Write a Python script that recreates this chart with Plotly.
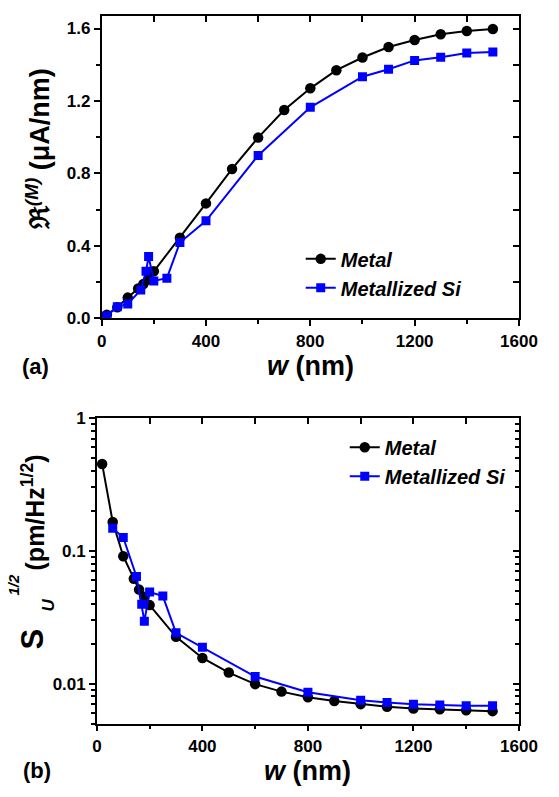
import plotly.graph_objects as go

# ---- panel (a): responsivity vs. width ----
w_metal_a = [20, 60, 100, 140, 160, 180, 200, 300, 400, 500, 600, 700, 800, 900,
             1000, 1100, 1200, 1300, 1400, 1500]
resp_metal = [0.02, 0.062, 0.115, 0.165, 0.19, 0.215, 0.26, 0.445, 0.635, 0.825,
              0.998, 1.15, 1.27, 1.37, 1.44, 1.498, 1.537, 1.568, 1.586, 1.597]

w_si_a = [20, 60, 100, 150, 170, 180, 200, 250, 300, 400, 600, 800, 1000, 1100,
          1200, 1300, 1400, 1500]
resp_si = [0.015, 0.065, 0.08, 0.157, 0.26, 0.342, 0.207, 0.222, 0.419, 0.539,
           0.899, 1.165, 1.334, 1.375, 1.424, 1.442, 1.465, 1.471]

# ---- panel (b): displacement noise vs. width ----
w_metal_b = [20, 60, 100, 140, 160, 180, 200, 300, 400, 500, 600, 700, 800, 900,
             1000, 1100, 1200, 1300, 1400, 1500]
noise_metal = [0.45, 0.165, 0.091, 0.0615, 0.051, 0.045, 0.039, 0.0225, 0.0156,
               0.0121, 0.0099, 0.0087, 0.0079, 0.0074, 0.0070, 0.0067, 0.0065,
               0.0064, 0.0063, 0.0062]

w_si_b = [60, 100, 150, 170, 180, 200, 250, 300, 400, 600, 800, 1000, 1100, 1200,
          1300, 1400, 1500]
noise_si = [0.148, 0.126, 0.064, 0.0396, 0.0295, 0.049, 0.0456, 0.0241, 0.0188,
            0.0113, 0.0086, 0.0075, 0.0072, 0.0070, 0.0069, 0.0068, 0.0068]

x_ticks = [0, 400, 800, 1200, 1600]
ya_ticks = [0.0, 0.4, 0.8, 1.2, 1.6]
ya_ticktext = ["0.0", "0.4", "0.8", "1.2", "1.6"]
yb_ticks = [1, 0.1, 0.01]
yb_ticktext = ["1", "0.1", "0.01"]
yb_minor = [k * 10.0 ** e for e in (-1, -2) for k in range(2, 10)] + [0.005, 0.006, 0.007, 0.008, 0.009]
yb_minor = sorted(set(round(v, 6) for v in yb_minor if 0.005 <= v < 1))

W, H = 559, 797
FONT = "Liberation Sans, Arial, sans-serif"
BLACK = "#000000"
BLUE = "#0000FF"


def px_x(p):
    return p / W


def px_y(p):
    return 1 - p / H


fig = go.Figure()

common_metal = dict(mode="lines+markers", line=dict(color=BLACK, width=2),
                    marker=dict(symbol="circle", size=10.5, color=BLACK), name="<i>Metal</i>")
common_si = dict(mode="lines+markers", line=dict(color=BLUE, width=2),
                 marker=dict(symbol="square", size=9, color=BLUE), name="<i>Metallized Si</i>")

fig.add_trace(go.Scatter(x=w_metal_a, y=resp_metal, xaxis="x", yaxis="y",
                         legend="legend", **common_metal))
fig.add_trace(go.Scatter(x=w_si_a, y=resp_si, xaxis="x", yaxis="y",
                         legend="legend", **common_si))
fig.add_trace(go.Scatter(x=w_metal_b, y=noise_metal, xaxis="x2", yaxis="y2",
                         legend="legend2", **common_metal))
fig.add_trace(go.Scatter(x=w_si_b, y=noise_si, xaxis="x2", yaxis="y2",
                         legend="legend2", **common_si))

# empty traces so the mirrored top/right frame axes get drawn
for xa, ya in (("x3", "y3"), ("x4", "y4")):
    fig.add_trace(go.Scatter(x=[], y=[], xaxis=xa, yaxis=ya, showlegend=False,
                             hoverinfo="skip"))

tickfont = dict(family=FONT, size=17, color=BLACK, weight="bold")

dom_xa = [px_x(101), px_x(537)]
dom_ya = [px_y(317), px_y(7)]
dom_xb = [px_x(96), px_x(537)]
dom_yb = [px_y(732), px_y(419)]

axis_line = dict(showline=True, linecolor=BLACK, linewidth=1.5, showgrid=False,
                 zeroline=False, tickcolor=BLACK, tickwidth=1.5, tickfont=tickfont)

fig.update_layout(
    width=W, height=H,
    margin=dict(l=0, r=0, t=0, b=0),
    paper_bgcolor="white", plot_bgcolor="white",
    showlegend=True,
    # panel (a) axes
    xaxis=dict(domain=dom_xa, anchor="y", range=[0, 1600], tickvals=x_ticks,
               ticks="outside", ticklen=6,
               minor=dict(dtick=200, tick0=0, ticks="outside", ticklen=4,
                          tickwidth=1.5, tickcolor=BLACK), **axis_line),
    yaxis=dict(domain=dom_ya, anchor="x", range=[0, 1.67], tickvals=ya_ticks,
               ticktext=ya_ticktext, ticks="outside", ticklen=6,
               minor=dict(dtick=0.2, tick0=0, ticks="outside", ticklen=4,
                          tickwidth=1.5, tickcolor=BLACK), **axis_line),
    xaxis3=dict(overlaying="x", anchor="y3", side="top", range=[0, 1600], dtick=200,
                tick0=0, ticks="inside", ticklen=6, showticklabels=False,
                **axis_line),
    yaxis3=dict(overlaying="y", anchor="x3", side="right", range=[0, 1.67], dtick=0.2,
                tick0=0, ticks="inside", ticklen=6, showticklabels=False,
                **axis_line),
    # panel (b) axes
    xaxis2=dict(domain=dom_xb, anchor="y2", range=[0, 1600], tickvals=x_ticks,
                ticks="outside", ticklen=6,
                minor=dict(dtick=200, tick0=0, ticks="outside", ticklen=4,
                           tickwidth=1.5, tickcolor=BLACK), **axis_line),
    yaxis2=dict(domain=dom_yb, anchor="x2", type="log", range=[-2.30103, 0],
                tickvals=yb_ticks, ticktext=yb_ticktext, ticks="outside", ticklen=6,
                minor=dict(tickmode="array", tickvals=yb_minor, ticks="outside",
                           ticklen=4, tickwidth=1.5, tickcolor=BLACK), **axis_line),
    xaxis4=dict(overlaying="x2", anchor="y4", side="top", range=[0, 1600], dtick=200,
                tick0=0, ticks="inside", ticklen=6, showticklabels=False,
                **axis_line),
    yaxis4=dict(overlaying="y2", anchor="x4", side="right", type="log",
                range=[-2.30103, 0], tickvals=yb_ticks, ticks="inside", ticklen=6,
                showticklabels=False,
                minor=dict(tickmode="array", tickvals=yb_minor, ticks="inside",
                           ticklen=4, tickwidth=1.5, tickcolor=BLACK),
                **axis_line),
    legend=dict(x=px_x(309), y=px_y(236), xanchor="left", yanchor="top",
                bgcolor="rgba(0,0,0,0)",
                font=dict(family=FONT, size=20, color=BLACK, weight="bold"),
                itemwidth=30, tracegroupgap=0),
    legend2=dict(x=px_x(355), y=px_y(429), xanchor="left", yanchor="top",
                 bgcolor="rgba(0,0,0,0)",
                 font=dict(family=FONT, size=20, color=BLACK, weight="bold"),
                 itemwidth=30, tracegroupgap=0),
)

ann_font = dict(family=FONT, color=BLACK, weight="bold")


def ann(text, x, y, size, angle=0, xanchor="center", yanchor="middle"):
    fig.add_annotation(text=text, x=px_x(x), y=px_y(y), xref="paper", yref="paper",
                       showarrow=False, textangle=angle, xanchor=xanchor,
                       yanchor=yanchor, borderpad=0,
                       font=dict(size=size, **ann_font))


# axis titles and panel labels
ann("<i>w</i> (nm)", 319, 366, 27)
ann("<i>w</i> (nm)", 316, 781, 27)
ann("(a)", 32, 366, 22)
ann("(b)", 33, 780, 22)
ann("ℜ<sup><i>(M)</i></sup> (μA/nm)", 34, 143, 27, angle=-90)
ann("S", 29, 645, 31, angle=-90)
ann("<i>U</i>", 45, 611, 17, angle=-90)
ann("<i>1/2</i>", 9, 590, 15, angle=-90)
ann("(pm/Hz<sup>1/2</sup>)", 29, 516, 25, angle=-90)

fig.write_html("out.html")
